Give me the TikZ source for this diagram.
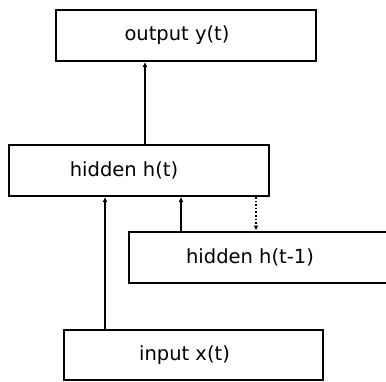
\documentclass[tikz,border=0pt]{standalone}
\usepackage{fontspec}
\setmainfont{DejaVu Sans}
\usetikzlibrary{arrows.meta}
\begin{document}
\begin{tikzpicture}[x=1pt,y=-1pt,
  box/.style={draw,line width=2pt,rectangle,inner sep=0pt,minimum width=260pt,minimum height=51pt},
  lbl/.style={font=\fontsize{19.5}{22}\selectfont},
  conn/.style={line width=2pt,-{Latex[length=5pt,width=5pt]}},
  dconn/.style={line width=1.6pt,dotted,-{Latex[length=5pt,width=5pt]}}]
\useasboundingbox (0,0) rectangle (386,381);
\node[box,label={[lbl,xshift=-9pt]center:output y(t)}] (out) at (186,35.5) {};
\node[box,label={[lbl,xshift=-15pt]center:hidden h(t)}] (ht) at (139,170.5) {};
\node[box,minimum width=262pt,label={[lbl,xshift=-10pt]center:hidden h(t-1)}] (hp) at (260,257) {};
\node[box,minimum width=259pt,minimum height=50pt,label={[lbl,xshift=-9pt]center:input x(t)}] (in) at (193.5,355) {};
\draw[conn] (ht.north -| 145,0) -- (out.south -| 145,0);
\draw[conn] (in.north -| 105,0) -- (ht.south -| 105,0);
\draw[conn] (hp.north -| 181,0) -- (ht.south -| 181,0);
\draw[dconn] (ht.south -| 256,0) -- (hp.north -| 256,0);
\end{tikzpicture}
\end{document}
